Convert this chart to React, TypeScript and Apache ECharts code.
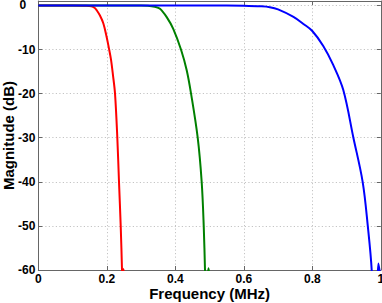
import React, { useEffect, useRef } from "react";
import * as echarts from "echarts";

const xTicks = [0, 0.2, 0.4, 0.6, 0.8, 1];
const yTicks = [-60, -50, -40, -30, -20, -10, 0];

const redX = [0, 0.1, 0.14, 0.155, 0.165, 0.1705, 0.18, 0.19, 0.1997, 0.2064, 0.2123, 0.218, 0.224, 0.2307, 0.2356, 0.2406, 0.2444, 0.2465, 0.249, 0.2515];
const redY = [0, 0, -0.05, -0.2, -0.6, -1.1, -2.3, -4.1, -7.2, -9.8, -12.3, -15.8, -20, -30, -40, -50, -60, -68, -59.7, -68];

const greenX = [0, 0.3, 0.32, 0.34, 0.3553, 0.3749, 0.394, 0.4166, 0.4333, 0.446, 0.4654, 0.477, 0.483, 0.4867, 0.489, 0.494, 0.497, 0.5, 0.503];
const greenY = [0, 0, -0.05, -0.3, -0.75, -2.65, -5.3, -10, -14.7, -20, -30, -40, -50, -60, -68, -62, -59.6, -62, -68];

const blueX = [0, 0.55, 0.6, 0.65, 0.676, 0.7, 0.745, 0.774, 0.8, 0.832, 0.861, 0.8905, 0.92, 0.947, 0.962, 0.9734, 0.976, 0.985, 0.993, 1];
const blueY = [0, 0, -0.05, -0.2, -0.4, -0.9, -2.6, -4.2, -5.8, -9.2, -13.5, -19.2, -30, -40, -50, -60, -70, -70, -58.5, -62];

const zip = (xs: number[], ys: number[]) => xs.map((x, i) => [x, ys[i]]);

const FONT = "Liberation Sans";
const AXIS = "#666666";

export default function App() {
  const ref = useRef<HTMLDivElement>(null);
  useEffect(() => {
    if (!ref.current) return;
    const chart = echarts.init(ref.current, undefined, { renderer: "svg" });
    const labelStyle = {
      fontFamily: FONT,
      fontWeight: "bold" as const,
      fontSize: 12,
      color: "#000",
    };
    const splitLine = {
      show: true,
      lineStyle: { color: "#c4c4c4", width: 1, type: [1.2, 2.3] as any },
    };
    const line = { show: true, onZero: false, lineStyle: { color: AXIS, width: 1 } };
    const tick = { show: true, inside: true, length: 4, lineStyle: { color: AXIS } };
    const mk = (name: string, xs: number[], ys: number[], color: string) => ({
      name,
      type: "line",
      data: zip(xs, ys),
      showSymbol: false,
      smooth: 0.35,
      clip: true,
      lineStyle: { color, width: 2 },
      itemStyle: { color },
    });
    chart.setOption({
      animation: false,
      backgroundColor: "#fff",
      grid: { left: 38.3, right: 1.2, top: 1, bottom: 33, containLabel: false, outerBoundsMode: "none" },
      xAxis: [
        {
          type: "value",
          min: xTicks[0],
          max: xTicks[xTicks.length - 1],
          interval: 0.2,
          position: "bottom",
          name: "Frequency (MHz)",
          nameLocation: "middle",
          nameGap: 16,
          nameMoveOverlap: false,
          nameTextStyle: { fontFamily: FONT, fontWeight: "bold", fontSize: 15, color: "#000" },
          axisLine: line,
          axisTick: tick,
          axisLabel: { ...labelStyle, margin: 3, formatter: (v: number) => String(Math.round(v * 10) / 10) },
          splitLine,
        },
        {
          type: "value",
          min: xTicks[0],
          max: xTicks[xTicks.length - 1],
          interval: 0.2,
          position: "top",
          axisLine: line,
          axisTick: tick,
          axisLabel: { show: false },
          splitLine: { show: false },
        },
      ],
      yAxis: [
        {
          type: "value",
          min: yTicks[0],
          max: 1,
          interval: 10,
          position: "left",
          name: "Magnitude (dB)",
          nameLocation: "middle",
          nameGap: 22.5,
          nameMoveOverlap: false,
          nameTextStyle: { fontFamily: FONT, fontWeight: "bold", fontSize: 15, color: "#000" },
          axisLine: line,
          axisTick: tick,
          axisLabel: {
            ...labelStyle,
            margin: 3,
            formatter: (v: number) => (yTicks.includes(v) ? (v === 0 ? "{z|0}" : String(v)) : ""),
            rich: { z: { ...labelStyle, padding: [0, 9, 0, 0] } },
          },
          splitLine,
        },
        {
          type: "value",
          min: yTicks[0],
          max: 1,
          interval: 10,
          position: "right",
          axisLine: line,
          axisTick: tick,
          axisLabel: { show: false },
          splitLine: { show: false },
        },
      ],
      series: [
        mk("red", redX, redY, "#ff0000"),
        mk("green", greenX, greenY, "#008000"),
        mk("blue", blueX, blueY, "#0000ff"),
      ],
    });
    return () => chart.dispose();
  }, []);
  return (
    <div
      ref={ref}
      style={{ position: "fixed", left: 0, top: 0, width: 382, height: 303, background: "#fff" }}
    />
  );
}
